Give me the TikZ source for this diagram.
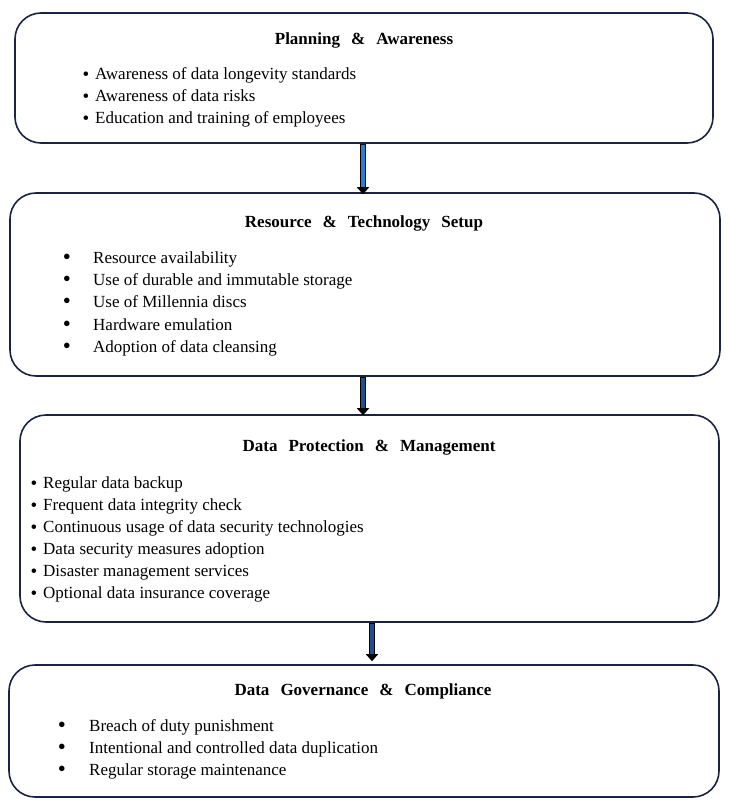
\documentclass[tikz,border=0pt]{standalone}
\usepackage{fontspec}
\setmainfont{Liberation Serif}
\newfontfamily\titlefont[WordSpace=2.6]{Liberation Serif}
\usetikzlibrary{arrows.meta}
\definecolor{navy}{HTML}{1B2340}
\definecolor{arrowblueA}{HTML}{2E7BD6}
\definecolor{arrowblueB}{HTML}{1F4F8F}
\begin{document}
\begin{tikzpicture}[x=1pt,y=-1pt,
  box/.style={draw=navy, line width=1.6pt, rounded corners=26pt, minimum width=#1, inner sep=0pt},
  ttl/.style={font=\titlefont\fontsize{17}{20}\selectfont\bfseries, anchor=base, inner sep=0pt},
  itm/.style={font=\fontsize{17}{20}\selectfont, anchor=base west, inner sep=0pt},
  bul/.style={font=\fontsize{19}{20}\selectfont, anchor=base, inner sep=0pt},
  bigbul/.style={font=\fontsize{23}{24}\selectfont, anchor=base, inner sep=0pt},
  blockarrow/.style={line width=6pt, draw=black, -{Triangle[width=12pt,length=7pt]},
    postaction={draw=#1, line width=3.4pt, -, shorten >=7.5pt, shorten <=0.8pt}}
]
\useasboundingbox (0,0) rectangle (729,810);

% boxes
\node[box=698pt, minimum height=130pt] (b1) at (364,78) {};
\node[box=710pt, minimum height=183pt] (b2) at (365,284.5) {};
\node[box=699pt, minimum height=207pt] (b3) at (369.5,518.5) {};
\node[box=710pt, minimum height=132pt] (b4) at (364,731) {};

% box 1
\node[ttl] (t1) at (364,45) {Planning \& Awareness};
\node[bul] (p1) at (86,81) {•};
\node[itm] (i11) at (95,80) {Awareness of data longevity standards};
\node[bul] (p2) at (86,103) {•};
\node[itm] (i12) at (95,102) {Awareness of data risks};
\node[bul] (p3) at (86,125) {•};
\node[itm] (i13) at (95,124) {Education and training of employees};

% box 2
\node[ttl] (t2) at (364,227) {Resource \& Technology Setup};
\node[bigbul] (q1) at (67,264.5) {•};
\node[itm] (i21) at (93,263) {Resource availability};
\node[bigbul] (q2) at (67,286.5) {•};
\node[itm] (i22) at (93,285) {Use of durable and immutable storage};
\node[bigbul] (q3) at (67,308.5) {•};
\node[itm] (i23) at (93,307) {Use of Millennia discs};
\node[bigbul] (q4) at (67,331.5) {•};
\node[itm] (i24) at (93,330) {Hardware emulation};
\node[bigbul] (q5) at (67,353.5) {•};
\node[itm] (i25) at (93,352) {Adoption of data cleansing};

% box 3
\node[ttl] (t3) at (369,451) {Data Protection \& Management};
\node[bul] (r1) at (34,489) {•};
\node[itm] (i31) at (43,488) {Regular data backup};
\node[bul] (r2) at (34,511) {•};
\node[itm] (i32) at (43,510) {Frequent data integrity check};
\node[bul] (r3) at (34,533) {•};
\node[itm] (i33) at (43,532) {Continuous usage of data security technologies};
\node[bul] (r4) at (34,555) {•};
\node[itm] (i34) at (43,554) {Data security measures adoption};
\node[bul] (r5) at (34,577) {•};
\node[itm] (i35) at (43,576) {Disaster management services};
\node[bul] (r6) at (34,599) {•};
\node[itm] (i36) at (43,598) {Optional data insurance coverage};

% box 4
\node[ttl] (t4) at (363,695) {Data Governance \& Compliance};
\node[bigbul] (s1) at (62,732.5) {•};
\node[itm] (i41) at (89,731) {Breach of duty punishment};
\node[bigbul] (s2) at (62,754.5) {•};
\node[itm] (i42) at (89,753) {Intentional and controlled data duplication};
\node[bigbul] (s3) at (62,776.5) {•};
\node[itm] (i43) at (89,775) {Regular storage maintenance};

% arrows
\coordinate (ax1) at (363,0);
\coordinate (ax2) at (363,0);
\coordinate (ax3) at (372,0);
\draw[blockarrow=arrowblueA] (b1.south -| ax1) -- ([yshift=-2pt]b2.north -| ax1);
\draw[blockarrow=arrowblueB] (b2.south -| ax2) -- ([yshift=-1pt]b3.north -| ax2);
\draw[blockarrow=arrowblueB] (b3.south -| ax3) -- ([yshift=3pt]b4.north -| ax3);
\end{tikzpicture}
\end{document}
